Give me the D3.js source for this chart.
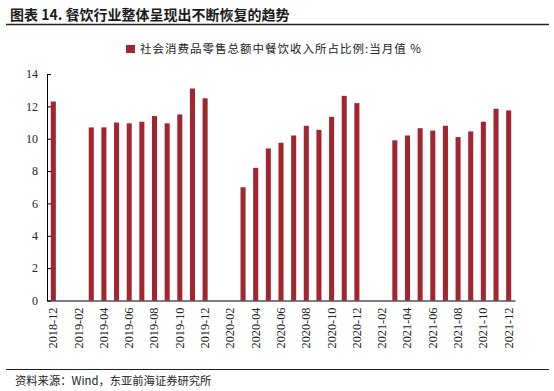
<!DOCTYPE html>
<html><head><meta charset="utf-8">
<script src="https://cdn.jsdelivr.net/npm/d3@7/dist/d3.min.js"></script>
<style>body{margin:0;background:#fff}svg{display:block}</style>
</head><body><svg id="c" width="554" height="391"></svg>
<script>
const months = ["2018-12","2019-01","2019-02","2019-03","2019-04","2019-05","2019-06","2019-07","2019-08","2019-09","2019-10","2019-11","2019-12",
"2020-01","2020-02","2020-03","2020-04","2020-05","2020-06","2020-07","2020-08","2020-09","2020-10","2020-11","2020-12",
"2021-01","2021-02","2021-03","2021-04","2021-05","2021-06","2021-07","2021-08","2021-09","2021-10","2021-11","2021-12"];
const values = [12.3,null,null,10.7,10.7,11.0,10.95,11.05,11.4,10.95,11.5,13.1,12.5,
null,null,7.0,8.2,9.4,9.75,10.2,10.8,10.55,11.35,12.65,12.2,
null,null,9.9,10.2,10.65,10.5,10.8,10.1,10.45,11.05,11.85,11.75];
const yTicks = [0,2,4,6,8,10,12,14];
const xTickLabels = months.filter((m,i)=>i%2===0);
const title = "图表 14. 餐饮行业整体呈现出不断恢复的趋势";
const legendLabel = "社会消费品零售总额中餐饮收入所占比例:当月值 %";
const source = "资料来源：Wind，东亚前海证券研究所";

const svg = d3.select("#c");
const barColor = "#a2262f";
const serif = "'Liberation Serif','Times New Roman',serif";
const cjk = "'Noto Sans CJK SC',sans-serif";

svg.append("text").attr("x",10).attr("y",20).attr("font-family",cjk).attr("font-weight","bold")
  .attr("font-size",14).attr("fill","#1a1a1a").text(title);
svg.append("line").attr("x1",6).attr("x2",549).attr("y1",24.5).attr("y2",24.5).attr("stroke","#222").attr("stroke-width",1.5);

const x = d3.scaleBand().domain(months).range([47,515]).paddingInner(0.6).paddingOuter(0.3);
const y = d3.scaleLinear().domain([0,14]).range([300.5,74]);

// bars
svg.append("g").selectAll("rect").data(months.map((m,i)=>({m,v:values[i]})).filter(d=>d.v!=null))
  .enter().append("rect")
  .attr("x",d=>x(d.m)).attr("width",x.bandwidth())
  .attr("y",d=>y(d.v)).attr("height",d=>y(0)-y(d.v)).attr("fill",barColor);

// y axis
const ya = svg.append("g").attr("transform","translate(47,0)")
  .call(d3.axisLeft(y).tickValues(yTicks).tickSize(-4).tickPadding(9).tickSizeOuter(0));
ya.select(".domain").attr("stroke","#000");
ya.selectAll(".tick line").attr("stroke","#000");
ya.selectAll("text").attr("font-family",serif).attr("font-size",12).attr("fill","#222");

// x axis
const xa = svg.append("g").attr("transform","translate(0,300.5)")
  .call(d3.axisBottom(x).tickValues(xTickLabels).tickSize(0).tickSizeOuter(0));
xa.select(".domain").attr("stroke","#000").attr("stroke-width",1.2);
xa.selectAll("text").attr("font-family",serif).attr("font-size",12.3).attr("fill","#222")
  .attr("transform","rotate(-90)").attr("text-anchor","end").attr("dx","-7px").attr("dy","0.32em").attr("y",0).attr("x",0);

// legend
svg.append("rect").attr("x",126).attr("y",45).attr("width",9).attr("height",8).attr("fill",barColor);
svg.append("text").attr("x",140).attr("y",53).attr("font-family",cjk).attr("font-size",11.5)
  .attr("letter-spacing","1px").attr("fill","#222").text(legendLabel);

// bottom line & source
svg.append("line").attr("x1",6).attr("x2",549).attr("y1",369.5).attr("y2",369.5).attr("stroke","#222").attr("stroke-width",1.2);
svg.append("text").attr("x",15).attr("y",385).attr("font-family",cjk).attr("font-size",11.3).attr("fill","#222").text(source);
</script></body></html>
